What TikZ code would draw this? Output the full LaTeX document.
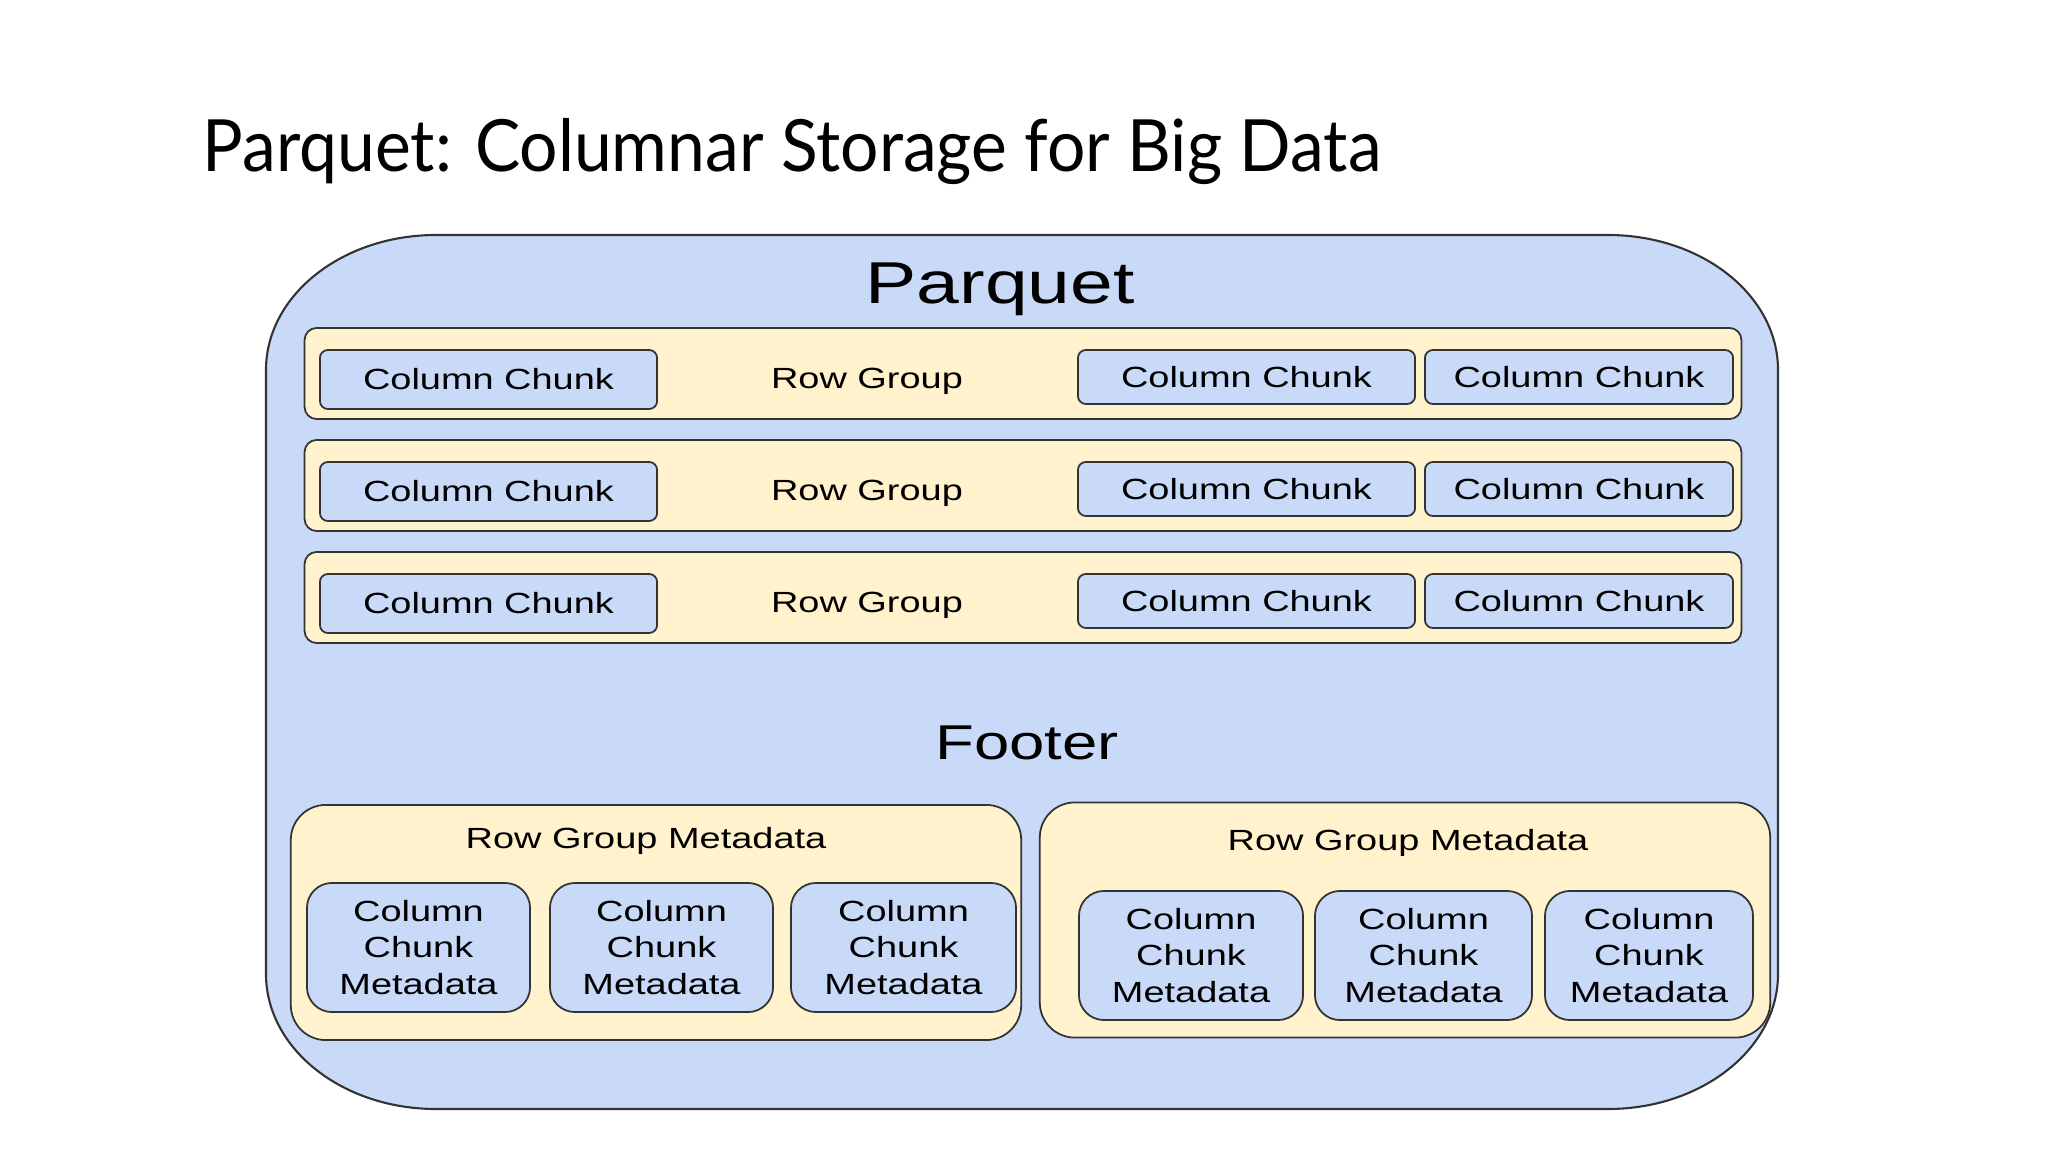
\documentclass[tikz,border=0pt]{standalone}
\usepackage{fontspec}
\usepackage{xcolor}
\newfontfamily\diagfont[FakeStretch=1.3]{Liberation Sans}
\newfontfamily\titlefont[FakeStretch=0.94]{Lato}
\definecolor{pqblue}{HTML}{C9DAF8}
\definecolor{pqyellow}{HTML}{FFF2CC}
\definecolor{pqline}{HTML}{333333}

\begin{document}
\begin{tikzpicture}[x=0.01cm,y=-0.01cm,
	box/.style={draw=pqline,line width=0.5pt,inner sep=0pt},
	rowgroup/.style={box,fill=pqyellow,rounded corners=0.12cm,minimum width=14.36cm,minimum height=0.91cm},
	chunk/.style={box,fill=pqblue,rounded corners=0.08cm,font=\diagfont\fontsize{8.3}{10.3}\selectfont},
	metagroup/.style={box,fill=pqyellow,rounded corners=0.35cm,minimum width=7.3cm,minimum height=2.35cm},
	metachunk/.style={chunk,rounded corners=0.25cm,align=center,minimum height=1.29cm},
	lbl/.style={inner sep=0pt,anchor=base,font=\diagfont\fontsize{8.3}{10.3}\selectfont}]
	\useasboundingbox (0,0) rectangle (2048,1152);
	
	% title
	\node[inner sep=0pt,anchor=base west,font=\titlefont\fontsize{20.5}{24}\selectfont] (title) at (202,172) {Parquet: Columnar Storage for Big Data};
	
	% outer file
	\draw[draw=pqline,line width=0.6pt,fill=pqblue]
	(266,370) .. controls (266,295.4) and (342.1,235) .. (436,235) -- (1608,235)
	.. controls (1701.9,235) and (1778,295.4) .. (1778,370) -- (1778,974)
	.. controls (1778,1048.6) and (1701.9,1109) .. (1608,1109) -- (436,1109)
	.. controls (342.1,1109) and (266,1048.6) .. (266,974) -- cycle;
	\node[inner sep=0pt,anchor=base,font=\diagfont\fontsize{16.8}{20}\selectfont] (parquet) at (1000,304) {Parquet};
	
	% row groups
	\foreach \i/\top in {1/328,2/440,3/552}{
		\node[rowgroup] (rg\i) at (1023,\top+45.5) {};
		\node[lbl] (rglabel\i) at (867,\top+61) {Row Group};
		\node[chunk,minimum width=3.37cm,minimum height=0.59cm] (cc\i a) at (488.5,\top+51.5) {Column Chunk};
		\node[chunk,minimum width=3.37cm,minimum height=0.54cm] (cc\i b) at (1246.5,\top+49) {Column Chunk};
		\node[chunk,minimum width=3.08cm,minimum height=0.54cm] (cc\i c) at (1579,\top+49) {Column Chunk};
	}
	
	% footer
	\node[inner sep=0pt,anchor=base,font=\diagfont\fontsize{13.9}{16}\selectfont] (footer) at (1027,759) {Footer};
	
	\node[metagroup] (rgm1) at (656,922.5) {};
	\node[lbl] (rgmlabel1) at (646,848) {Row Group Metadata};
	\node[metachunk,minimum width=2.23cm] (ccm1a) at (418.5,947.5) {Column\\Chunk\\Metadata};
	\node[metachunk,minimum width=2.23cm] (ccm1b) at (661.5,947.5) {Column\\Chunk\\Metadata};
	\node[metachunk,minimum width=2.25cm] (ccm1c) at (903.5,947.5) {Column\\Chunk\\Metadata};
	
	\node[metagroup] (rgm2) at (1405,920) {};
	\node[lbl] (rgmlabel2) at (1408,850) {Row Group Metadata};
	\node[metachunk,minimum width=2.24cm] (ccm2a) at (1191,955.5) {Column\\Chunk\\Metadata};
	\node[metachunk,minimum width=2.17cm] (ccm2b) at (1423.5,955.5) {Column\\Chunk\\Metadata};
	\node[metachunk,minimum width=2.08cm] (ccm2c) at (1649,955.5) {Column\\Chunk\\Metadata};
\end{tikzpicture}
\end{document}
